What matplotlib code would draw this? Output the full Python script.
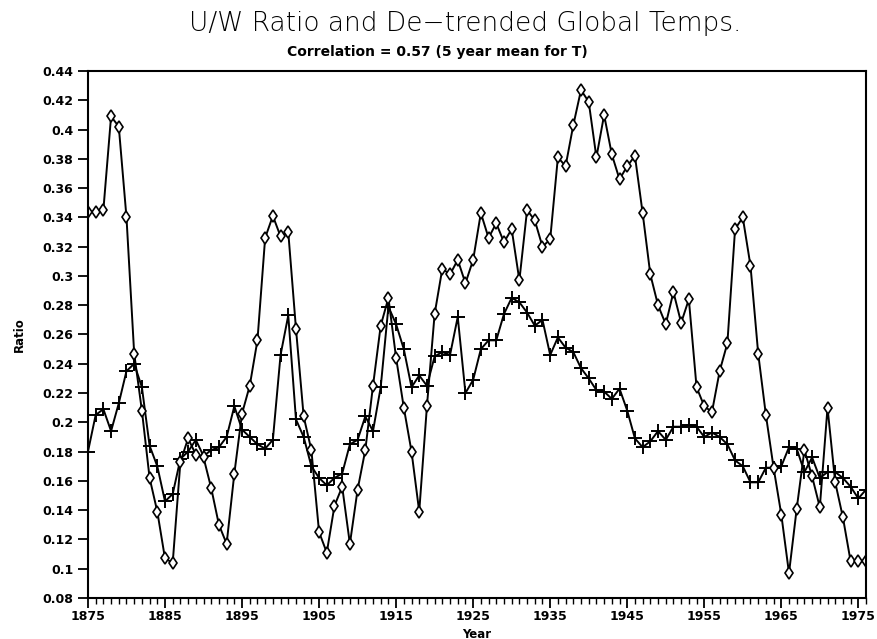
import numpy as np
import matplotlib
matplotlib.use("Agg")
import matplotlib.pyplot as plt
from matplotlib.ticker import MultipleLocator, FuncFormatter


years = list(range(1875, 1977))

# U/W ratio (diamonds)
uw_ratio = [0.344, 0.344, 0.345, 0.409, 0.402, 0.340, 0.247, 0.208, 0.162, 0.139,
            0.107, 0.104, 0.173, 0.189, 0.178, 0.176, 0.155, 0.130, 0.117, 0.165,
            0.206, 0.225, 0.256, 0.326, 0.341, 0.327, 0.330, 0.264, 0.204, 0.181,
            0.125, 0.111, 0.143, 0.156, 0.117, 0.154, 0.181, 0.225, 0.266, 0.285,
            0.244, 0.210, 0.180, 0.139, 0.211, 0.274, 0.305, 0.301, 0.311, 0.295,
            0.311, 0.343, 0.326, 0.336, 0.323, 0.332, 0.297, 0.345, 0.338, 0.320,
            0.325, 0.381, 0.375, 0.403, 0.427, 0.419, 0.381, 0.410, 0.383, 0.366,
            0.375, 0.382, 0.343, 0.301, 0.280, 0.267, 0.289, 0.268, 0.284, 0.224,
            0.211, 0.207, 0.235, 0.254, 0.332, 0.340, 0.307, 0.247, 0.205, 0.169,
            0.137, 0.097, 0.141, 0.181, 0.163, 0.142, 0.210, 0.159, 0.135, 0.105,
            0.105, 0.105]

# de-trended global temps, 5 year mean (plus signs)
temps = [0.180, 0.205, 0.209, 0.194, 0.213, 0.235, 0.240, 0.224, 0.184, 0.170,
         0.146, 0.151, 0.175, 0.180, 0.188, 0.177, 0.181, 0.183, 0.190, 0.211,
         0.195, 0.190, 0.185, 0.182, 0.188, 0.246, 0.273, 0.202, 0.190, 0.170,
         0.162, 0.157, 0.162, 0.165, 0.185, 0.188, 0.204, 0.194, 0.224, 0.279,
         0.267, 0.250, 0.224, 0.232, 0.225, 0.245, 0.248, 0.246, 0.272, 0.220,
         0.229, 0.250, 0.256, 0.256, 0.274, 0.285, 0.282, 0.275, 0.266, 0.270,
         0.246, 0.258, 0.251, 0.248, 0.237, 0.230, 0.222, 0.221, 0.216, 0.223,
         0.208, 0.189, 0.183, 0.187, 0.194, 0.188, 0.197, 0.197, 0.198, 0.197,
         0.190, 0.193, 0.190, 0.185, 0.174, 0.170, 0.159, 0.159, 0.169, 0.169,
         0.170, 0.183, 0.182, 0.166, 0.176, 0.162, 0.166, 0.166, 0.162, 0.156,
         0.148, 0.154]


def fmt_tick(v, pos):
    s = "%.2f" % v
    if s.endswith("0"):
        s = s[:-1]
    return s


def plot_ratio_vs_temps():
    fig = plt.figure(figsize=(8.77, 6.39), dpi=100)
    ax = fig.add_axes([0.1003, 0.0642, 0.8872, 0.8247])

    ax.plot(years, temps, color="black", lw=1.4, marker="+", markersize=10,
            markeredgewidth=1.4)
    ax.plot(years, uw_ratio, color="black", lw=1.4, marker="d", markersize=6.5,
            markerfacecolor="white", markeredgewidth=1.2)

    ax.set_xlim(1875, 1976)
    ax.set_ylim(0.08, 0.44)
    ax.xaxis.set_major_locator(MultipleLocator(10, offset=5))
    ax.xaxis.set_minor_locator(MultipleLocator(1))
    ax.yaxis.set_major_locator(MultipleLocator(0.02))
    ax.yaxis.set_major_formatter(FuncFormatter(fmt_tick))
    ax.tick_params(axis="both", which="major", direction="out", length=7,
                   width=1.3, labelsize=9)
    ax.tick_params(axis="x", which="major", pad=2)
    ax.tick_params(axis="x", which="minor", direction="out", length=4, width=1)
    for lab in ax.get_xticklabels() + ax.get_yticklabels():
        lab.set_fontweight("bold")
    for sp in ax.spines.values():
        sp.set_linewidth(1.5)

    ax.set_xlabel("Year", fontsize=8.5, fontweight="bold", labelpad=3)
    ax.set_ylabel("Ratio", fontsize=8.5, fontweight="bold", labelpad=12)

    fig.text(0.53, 0.963, "U/W Ratio and De\u2212trended Global Temps.",
             ha="center", va="center", fontsize=19, fontweight="light")
    fig.text(0.499, 0.918, "Correlation = 0.57 (5 year mean for T)",
             ha="center", va="center", fontsize=10, fontweight="bold")

    plt.savefig("out.png", dpi=100)
    plt.close()


def main():
    assert len(years) == len(uw_ratio) == len(temps)
    plot_ratio_vs_temps()


if __name__ == "__main__":
    main()
